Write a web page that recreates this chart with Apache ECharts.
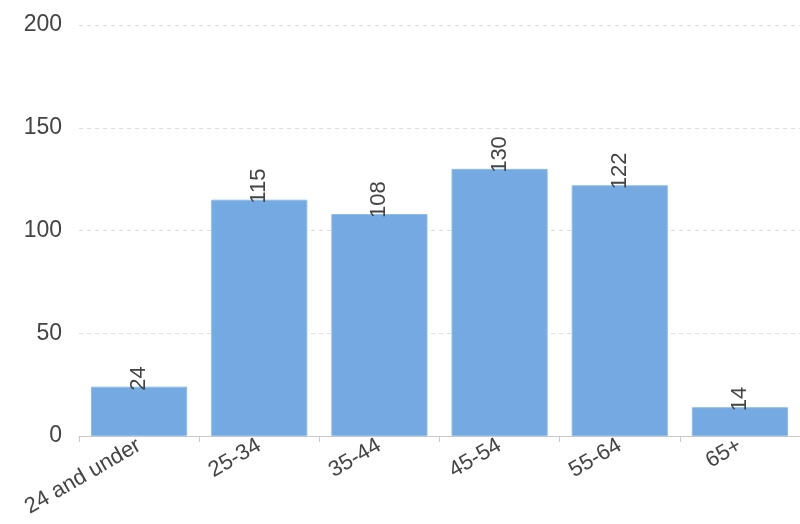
<!DOCTYPE html>
<html><head><meta charset="utf-8">
<script src="https://cdn.jsdelivr.net/npm/echarts@6/dist/echarts.min.js"></script>
<style>html,body{margin:0;padding:0;background:#fff}#c{width:800px;height:524px}</style>
</head><body><div id="c"></div>
<script>
const categories = ["24 and under","25-34","35-44","45-54","55-64","65+"];
const values = [24,115,108,130,122,14];
const yTicks = {min:0,max:200,interval:50};
const chart = echarts.init(document.getElementById('c'));
chart.setOption({
  animation:false,
  grid:{left:79,right:0,top:25,bottom:88,containLabel:false},
  xAxis:{type:'category',data:categories,
    axisLine:{lineStyle:{color:'#c8c8c8'}},
    axisTick:{show:true,lineStyle:{color:'#c8c8c8'},length:6},
    axisLabel:{rotate:30,color:'#444',fontSize:22,fontFamily:'Liberation Sans, Arial',margin:8,interval:0}},
  yAxis:{type:'value',min:yTicks.min,max:yTicks.max,interval:yTicks.interval,
    axisLine:{show:false},axisTick:{show:false},
    splitLine:{lineStyle:{color:'#dcdcdc',type:[4,4]}},
    axisLabel:{color:'#444',fontSize:23,fontFamily:'Liberation Sans, Arial',margin:17}},
  series:[{type:'bar',data:values,barCategoryGap:'20%',
    itemStyle:{color:'#74a9e1',borderColor:'#8dbbea',borderWidth:1},
    label:{show:true,position:'top',rotate:90,align:'left',verticalAlign:'middle',distance:-4,
      color:'#444',fontSize:22,fontFamily:'Liberation Sans, Arial'}}]
});
</script></body></html>
